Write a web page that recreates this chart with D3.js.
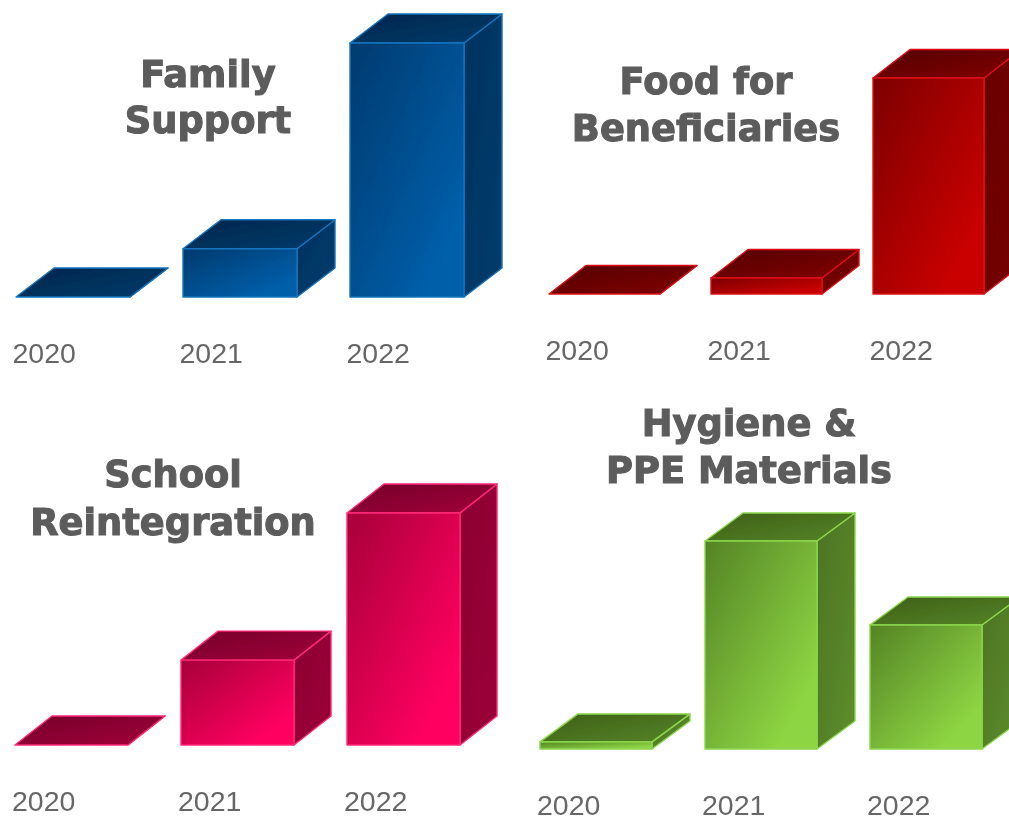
<!DOCTYPE html>
<html>
<head>
<meta charset="utf-8">
<title>Spending by programme</title>
<script src="https://cdn.jsdelivr.net/npm/d3@7"></script>
<style>
    html, body { margin: 0; padding: 0; background: #fff; overflow: hidden; }
    .title { font-family: "DejaVu Sans", sans-serif; font-weight: bold; font-size: 36.8px; fill: #5c5c5c; stroke: #5c5c5c; stroke-width: 1.1px; text-anchor: middle; }
    .tick text { font-family: "Liberation Sans", Arial, sans-serif; font-size: 28.5px; fill: #666; text-anchor: start; }
</style>
</head>
<body>
<div id="chart"></div>
<script>
//  STEP 1 : DATA (no axis in the picture, so values are % of the tallest bar in each panel)

const years = ['2020', '2021', '2022'];

const family_values = [0, 19, 100];
const food_values = [0, 7.4, 100];
const school_values = [0, 36.6, 100];
const hygiene_values = [3.4, 100, 59.6];

const family_title = ['Family', 'Support'];
const food_title = ['Food for', 'Beneficiaries'];
const school_title = ['School', 'Reintegration'];
const hygiene_title = ['Hygiene &', 'PPE Materials'];

//  STEP 2 : LAYOUT AND COLOURS

const blue = { edge: '#1474be', front: ['#003a6e', '#005ea9'], top: ['#00264b', '#003c6c'], side: ['#003360', '#003c6c'] };
const red = { edge: '#dc0a14', front: ['#7c0000', '#c90000'], top: ['#540000', '#820000'], side: ['#660000', '#7a0000'] };
const pink = { edge: '#ff2a78', front: ['#a60038', '#ff0060'], top: ['#740029', '#a30038'], side: ['#8c0030', '#9c0038'] };
const green = { edge: '#8bd64c', front: ['#548325', '#8dd543'], top: ['#3d5f18', '#568526'], side: ['#4c7324', '#5e8e2c'] };

const panels = [
    { id: 'family', values: family_values, title: family_title, color: blue,
      left: 16, step: 167, bar: 114, base: 297, tall: 254, depth_x: 38, depth_y: 29,
      tick_left: 12.5, title_x: 208, title_y: [87, 133] },
    { id: 'food', values: food_values, title: food_title, color: red,
      left: 549, step: 162, bar: 111, base: 294, tall: 216, depth_x: 37, depth_y: 28.5,
      tick_left: 545.5, title_x: 706, title_y: [94, 141] },
    { id: 'school', values: school_values, title: school_title, color: pink,
      left: 15, step: 166, bar: 113, base: 745, tall: 232, depth_x: 37, depth_y: 29,
      tick_left: 12, title_x: 173, title_y: [487, 535] },
    { id: 'hygiene', values: hygiene_values, title: hygiene_title, color: green,
      left: 540, step: 165, bar: 112, base: 749, tall: 208, depth_x: 38, depth_y: 28,
      tick_left: 537, title_x: 749, title_y: [436, 483] }
];

//  STEP 3 : DRAW

const svg = d3.select('#chart')
    .append('svg')
    .attr('width', 1009)
    .attr('height', 816)
    .style('display', 'block');

const defs = svg.append('defs');

// the reference is a soft upscaled image
defs.append('filter')
    .attr('id', 'soft')
    .append('feGaussianBlur')
    .attr('stdDeviation', 0.6);

const add_gradient = (id, colors, end)=>{
    const grad = defs.append('linearGradient')
        .attr('id', id)
        .attr('x1', 0).attr('y1', 0)
        .attr('x2', 1).attr('y2', 1);
    grad.append('stop').attr('offset', '0%').attr('stop-color', colors[0]);
    grad.append('stop').attr('offset', end).attr('stop-color', colors[1]);
};

const root = svg.append('g').attr('filter', 'url(#soft)');

panels.forEach((panel)=>{
    add_gradient(`${panel.id}-front`, panel.color.front, '82%');
    add_gradient(`${panel.id}-top`, panel.color.top, '100%');
    add_gradient(`${panel.id}-side`, panel.color.side, '100%');

    const x_scale = d3.scaleBand()
        .domain(years)
        .range([panel.left, panel.left + panel.step * 2 + panel.bar])
        .paddingInner(1 - panel.bar / panel.step)
        .paddingOuter(0);

    const y_scale = d3.scaleLinear()
        .domain([0, 100])
        .range([panel.base, panel.base - panel.tall]);

    const g = root.append('g').attr('id', panel.id);

    // title
    g.selectAll('text.title')
        .data(panel.title)
        .enter()
        .append('text')
        .attr('class', 'title')
        .attr('x', panel.title_x)
        .attr('y', (d, i)=> panel.title_y[i])
        .text((d)=> d);

    // x axis, labels only and starting a bit left of each bar
    const x_axis = d3.axisBottom(x_scale)
        .tickSize(0)
        .tickPadding(46);

    const axis_g = g.append('g')
        .attr('transform', `translate(0, ${panel.base})`)
        .call(x_axis);
    axis_g.select('.domain').remove();
    axis_g.selectAll('.tick text')
        .attr('x', -x_scale.bandwidth() / 2 + (panel.tick_left - panel.left));

    // bars
    const bars = g.selectAll('g.bar')
        .data(panel.values)
        .enter()
        .append('g')
        .attr('class', 'bar')
        .attr('stroke', panel.color.edge)
        .attr('stroke-width', 1.4)
        .attr('stroke-linejoin', 'round');

    const x_left = (i)=> x_scale(years[i]);
    const x_right = (i)=> x_scale(years[i]) + x_scale.bandwidth();

    bars.append('polygon')
        .attr('fill', `url(#${panel.id}-side)`)
        .attr('points', (d, i)=> [
            [x_right(i), y_scale(d)],
            [x_right(i) + panel.depth_x, y_scale(d) - panel.depth_y],
            [x_right(i) + panel.depth_x, y_scale(0) - panel.depth_y],
            [x_right(i), y_scale(0)]
        ].join(' '));

    bars.append('polygon')
        .attr('fill', `url(#${panel.id}-top)`)
        .attr('points', (d, i)=> [
            [x_left(i), y_scale(d)],
            [x_left(i) + panel.depth_x, y_scale(d) - panel.depth_y],
            [x_right(i) + panel.depth_x, y_scale(d) - panel.depth_y],
            [x_right(i), y_scale(d)]
        ].join(' '));

    bars.append('rect')
        .attr('fill', `url(#${panel.id}-front)`)
        .attr('x', (d, i)=> x_left(i))
        .attr('y', (d)=> y_scale(d))
        .attr('width', x_scale.bandwidth())
        .attr('height', (d)=> y_scale(0) - y_scale(d));
});
</script>
</body>
</html>
